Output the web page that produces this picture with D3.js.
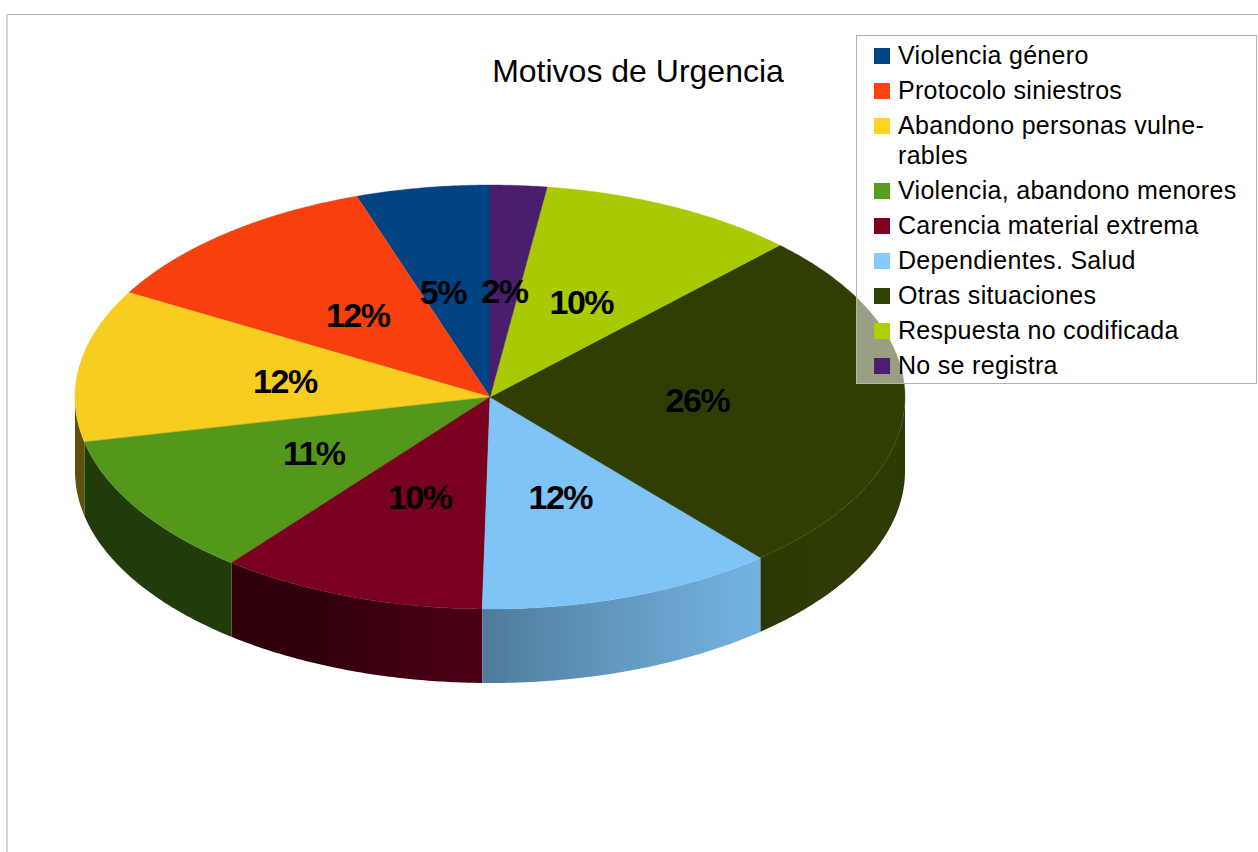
<!DOCTYPE html>
<html><head><meta charset="utf-8">
<script src="https://cdn.jsdelivr.net/npm/d3@7"></script>
<style>html,body{margin:0;padding:0;background:#fff;} svg{display:block;font-family:"Liberation Sans",Arial,sans-serif;}</style>
</head><body>
<svg id="chart" width="1258" height="852"></svg>
<script>
const categories = ["Violencia género","Protocolo siniestros","Abandono personas vulne\u00ADrables","Violencia, abandono menores","Carencia material extrema","Dependientes. Salud","Otras situaciones","Respuesta no codificada","No se registra"];
const values = [5.2, 11.6, 11.6, 10.9, 10.4, 11.6, 26.4, 10.1, 2.2];
const colors = ["#004586","#ff420e","#ffd320","#579d1c","#7e0021","#83caff","#314004","#aecf00","#4b1f6f"];
const title = "Motivos de Urgencia";

const W = 1258, H = 852;
const cx = 490, cy = 397, rx = 415, ry = 212, depth = 74;
const svg = d3.select("#chart");
const defs = svg.append("defs");

// outer frame
svg.append("line").attr("x1",6).attr("x2",W).attr("y1",14.5).attr("y2",14.5).attr("stroke","#b3b3b3");
svg.append("line").attr("x1",7).attr("x2",7).attr("y1",14).attr("y2",H).attr("stroke","#d6d6d6").attr("stroke-width",2);

const total = d3.sum(values);
const pie = d3.pie().sort(null).startAngle(0).endAngle(-2*Math.PI);
const TAU = 2*Math.PI;
const arcs = pie(values).map((d,i)=>({
  i, v:d.value,
  a0: Math.min(d.startAngle,d.endAngle)+TAU,
  a1: Math.max(d.startAngle,d.endAngle)+TAU
}));

const P = (t,dy=0)=>[cx+rx*Math.sin(t), cy-ry*Math.cos(t)+dy];
const scaleColor = (c,k)=>{const r=d3.rgb(c); return d3.rgb(r.r*k,r.g*k,r.b*k).formatHex();};
const deg = Math.PI/180;
const bright = t => 0.38 + 0.55*Math.max(0, Math.cos(t - 115*deg));

// side walls (front half only), smooth horizontal gradients
const walls = svg.append("g");
let gid = 0;
arcs.forEach(a=>{
  [[a.a0,a.a1],[a.a0-TAU,a.a1-TAU]].forEach(([s,e])=>{
    const lo = Math.max(s, Math.PI/2), hi = Math.min(e, 3*Math.PI/2);
    if (hi <= lo) return;
    const n = Math.max(2, Math.ceil((hi-lo)/(0.5*deg)));
    const ts = d3.range(n+1).map(k=>lo+(hi-lo)*k/n);
    const xA = P(lo)[0], xB = P(hi)[0];
    const id = "wg"+(gid++);
    const g = defs.append("linearGradient").attr("id",id).attr("gradientUnits","userSpaceOnUse")
      .attr("x1",xA).attr("x2",xB).attr("y1",0).attr("y2",0);
    const span = Math.abs(xB-xA) || 1;
    ts.filter((t,k)=>k%4===0 || k===n).forEach(t=>{
      g.append("stop").attr("offset",Math.min(1,Math.max(0,Math.abs(P(t)[0]-xA)/span)))
        .attr("stop-color",scaleColor(colors[a.i],bright(t)));
    });
    const pts = ts.map(t=>P(t)).concat(ts.slice().reverse().map(t=>P(t,depth)));
    walls.append("path").attr("d","M"+pts.map(p=>p.join(",")).join("L")+"Z").attr("fill",`url(#${id})`);
  });
});

// top faces
const tops = svg.append("g");
arcs.forEach(a=>{
  const n = Math.max(2, Math.ceil((a.a1-a.a0)/(0.5*deg)));
  const pts = [[cx,cy]];
  for (let k=0;k<=n;k++) pts.push(P(a.a0+(a.a1-a.a0)*k/n));
  const col = scaleColor(colors[a.i],0.97);
  tops.append("path").attr("d","M"+pts.map(p=>p.join(",")).join("L")+"Z")
    .attr("fill",col).attr("stroke",col).attr("stroke-width",0.4);
});

// value labels
const lg = svg.append("g").attr("font-weight","bold").attr("font-size",34).attr("letter-spacing","-1.5px").attr("text-anchor","middle");
const labels = arcs.map(a=>{
  const m = (a.a0+a.a1)/2;
  const x = cx+0.5*rx*Math.sin(m), y = cy-0.5*ry*Math.cos(m);
  const t = lg.append("text").attr("x",x).attr("y",y+12).text(Math.round(a.v/total*100)+"%");
  return {t, x, y, w: t.node().getBBox().width};
});
// overlap resolution: keep a minimum gap, pushing the left label leftwards
const minGap = 14;
for (let i=0;i<labels.length;i++) for (let j=0;j<labels.length;j++){
  if (i===j) continue;
  const A=labels[i], B=labels[j];
  if (A.x > B.x) continue;
  if (Math.abs(A.y-B.y) > 25) continue;
  const gap = (B.x - B.w/2) - (A.x + A.w/2);
  if (gap < minGap){ A.x -= (minGap-gap); A.t.attr("x",A.x); }
}

// title
svg.append("text").attr("x",638).attr("y",82).attr("text-anchor","middle").attr("font-size",32).attr("fill","#000").text(title);

// legend
const leg = svg.append("g");
leg.append("rect").attr("x",856.5).attr("y",35.5).attr("width",400).attr("height",348)
  .attr("fill","#fff").attr("fill-opacity",0.5).attr("stroke","#b3b3b3");
let by = 63.5;
categories.forEach((c,i)=>{
  const parts = c.split("\u00AD");
  const lines = parts.map((p,k)=> k<parts.length-1 ? p+"-" : p);
  leg.append("rect").attr("x",874).attr("y",by-15.5).attr("width",16).attr("height",16).attr("fill",colors[i]);
  lines.forEach((l,k)=>{
    leg.append("text").attr("x",898).attr("y",by+k*30).attr("font-size",25).attr("letter-spacing","0.3px").attr("fill","#000").text(l);
  });
  by += 35 + (lines.length-1)*30;
});
</script>
</body></html>
